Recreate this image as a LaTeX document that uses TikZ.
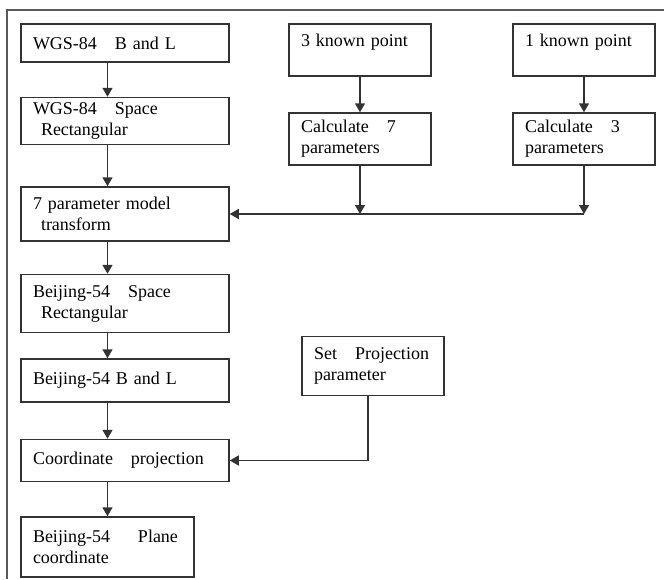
\documentclass[tikz,border=0pt]{standalone}
\usepackage{fontspec}
\setmainfont{Liberation Serif}
\usetikzlibrary{arrows.meta,positioning}

\begin{document}
\begin{tikzpicture}[
  x=1pt,y=-1pt,
  line width=1.5pt,draw=black!80,
  box/.style={draw,rectangle,align=left,inner xsep=12pt,inner ysep=2pt,
    font=\fontsize{18}{21}\selectfont},
  wide/.style={box,text width=184pt},
  small/.style={box,text width=118pt},
  >={Triangle[length=9pt,width=10pt]}]
  \useasboundingbox (0,0) rectangle (664,579);
  % outer frame
  \draw[black!65] (7,579) -- (7,10) -- (664,10);
  % left column
  \node[wide,minimum height=38pt] (WB) at (125,43) {WGS-84\quad B and L};
  \node[wide,minimum height=47pt,below=34pt of WB] (WS) {WGS-84\quad Space\\\hspace*{8pt}Rectangular};
  \node[wide,minimum height=54pt,below=41pt of WS] (SM) {7 parameter model\\\hspace*{8pt}transform};
  \node[wide,minimum height=58pt,below=32pt of SM] (BS) {Beijing-54\quad Space\\\hspace*{8pt}Rectangular};
  \node[wide,minimum height=43pt,below=25pt of BS] (BB) {Beijing-54 B and L};
  \node[wide,minimum height=42pt,below=36pt of BB] (CP) {Coordinate\quad projection};
  \node[box,text width=149pt,minimum height=60pt,below=34pt of CP.south west,anchor=north west] (BP) {Beijing-54\hspace{28pt}Plane\\coordinate};
  % right side
  \node[small,minimum height=52pt] (K3) at (360,50) {3 known point\\[-7pt]\strut};
  \node[small,minimum height=52pt] (C7) at (360,139) {Calculate\quad 7\\parameters};
  \node[small,minimum height=52pt] (K1) at (584,50) {1 known point\\[-7pt]\strut};
  \node[small,minimum height=52pt] (C3) at (584,139) {Calculate\quad 3\\parameters};
  \node[small,minimum height=59pt] (SP) at (373,366) {Set\quad Projection\\parameter};
  % connectors
  \foreach \a/\b in {WB/WS,WS/SM,SM/BS,BS/BB,BB/CP,CP/BP}
    \draw[->] (\a.south -| BP.north) -- (\b.north -| BP.north);
  \draw[->] (K3) -- (C7);
  \draw[->] (K1) -- (C3);
  \draw[->] (C7) -- (C7 |- SM.east);
  \draw[->] (C3) -- (C3 |- SM.east);
  \draw[->] (C3 |- SM.east) -- (SM.east);
  \draw[->] ([xshift=-5pt]SP.south) |- (CP.east);
\end{tikzpicture}
\end{document}
